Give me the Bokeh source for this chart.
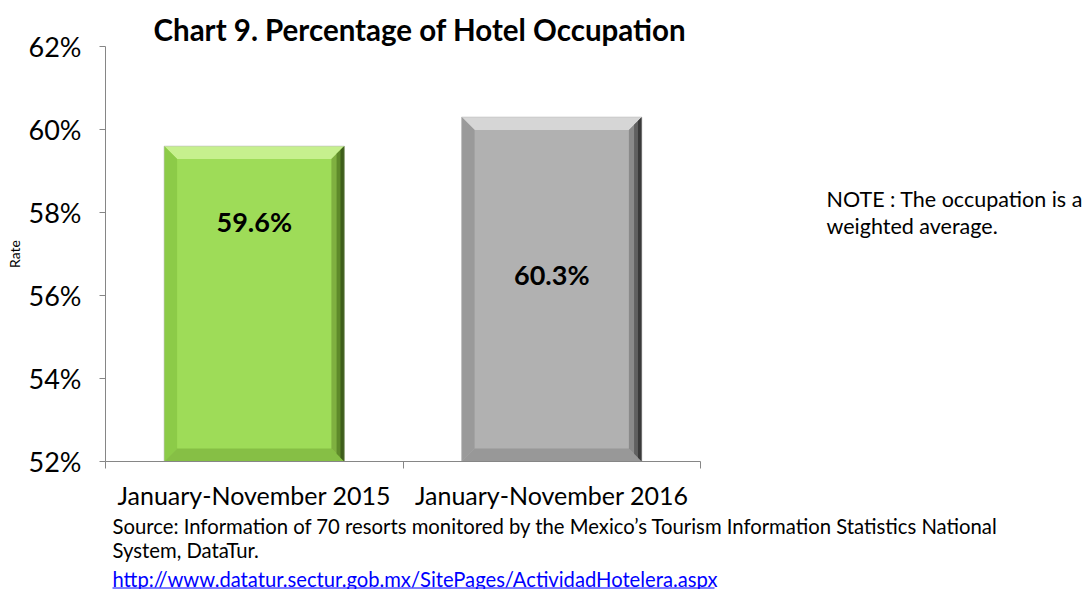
from bokeh.plotting import figure
from bokeh.models import Range1d, FixedTicker, Label
from bokeh.layouts import column, row
from bokeh.core.properties import value
from bokeh.embed import file_html
from bokeh.resources import INLINE

# ---- data ----
categories = ["January-November 2015", "January-November 2016"]
values = [59.6, 60.3]
value_labels = ["59.6%", "60.3%"]
y_ticks = [52, 54, 56, 58, 60, 62]
y_tick_labels = ["52%", "54%", "56%", "58%", "60%", "62%"]
title_text = "Chart 9. Percentage of Hotel Occupation"
y_title = "Rate"
note_lines = ["NOTE : The occupation is a", "weighted average."]
source_lines = ["Source:  Information of 70 resorts monitored by the Mexico\u2019s Tourism Information Statistics National",
                "System, DataTur."]
url_text = "http://www.datatur.sectur.gob.mx/SitePages/ActividadHotelera.aspx"

# ---- styles ----
FONT = "Lato"
face = ["#9EDC58", "#B1B1B1"]
top_c = ["#C6F08E", "#D6D6D6"]
left_c = ["#8CCB48", "#9A9A9A"]
bot_c = ["#86BF45", "#989898"]
right_c = [["#7FB040", "#5E8A2A", "#3E5E1A"], ["#8A8A8A", "#606060", "#3A3A3A"]]

W, H = 1091, 589
MAIN_W, MAIN_H = 800, 512
FL, FR, FT, FB = 105, 100, 46, 48   # frame borders of main figure
YMIN, YMAX = 52, 62
XMIN, XMAX = 0, 2
fw = MAIN_W - FL - FR
fh = MAIN_H - FT - FB

def fy(py):  # page px -> data y
    return YMIN + (MAIN_H - FB - py) / fh * (YMAX - YMIN)

p = figure(width=MAIN_W, height=MAIN_H, x_range=Range1d(XMIN, XMAX), y_range=Range1d(YMIN, YMAX),
           output_backend="svg", toolbar_location=None,
           min_border_left=FL, min_border_right=FR, min_border_top=FT, min_border_bottom=FB)
p.xgrid.visible = False
p.ygrid.visible = False
p.outline_line_color = None

# title
p.title.text = title_text
p.title.align = "left"
p.title.offset = 48
p.title.text_font = FONT
p.title.text_font_style = "bold"
p.title.text_font_size = "29.5px"
p.title.text_color = "black"
p.title.standoff = 0

# bars with bevel
half = 0.303
bx = 13 / fw * (XMAX - XMIN)
by = 13 / fh * (YMAX - YMIN)
for i, v in enumerate(values):
    c = i + 0.5
    x0, x1, y0, y1 = c - half, c + half, YMIN, v
    p.quad(left=x0, right=x1, bottom=y0, top=y1, fill_color=face[i], line_color=None)
    p.patch([x0, x1, x1 - bx, x0 + bx], [y1, y1, y1 - by, y1 - by], fill_color=top_c[i], line_color=None)
    p.patch([x0, x0 + bx, x0 + bx, x0], [y1, y1 - by, y0 + by, y0], fill_color=left_c[i], line_color=None)
    p.patch([x0, x1, x1 - bx, x0 + bx], [y0, y0, y0 + by, y0 + by], fill_color=bot_c[i], line_color=None)
    for f, col in zip([1.0, 0.6, 0.3], right_c[i]):
        p.patch([x1, x1, x1 - f * bx, x1 - f * bx], [y1, y0, y0 + f * by, y1 - f * by],
                fill_color=col, line_color=None)
    p.quad(left=x0, right=x1, bottom=y0, top=y1, fill_color=None, line_color="#BFBFBF", line_width=1, line_alpha=0.6)

# axes
ax = p.xaxis[0]
ax.ticker = FixedTicker(ticks=[0.5, 1.5], minor_ticks=[0, 1, 2])
ax.major_label_overrides = {0.5: categories[0], 1.5: categories[1]}
ax.major_tick_out = 0
ax.major_tick_in = 0
ax.minor_tick_out = 7
ax.minor_tick_in = 0
ax.axis_line_color = "#868686"
ax.minor_tick_line_color = "#868686"
ax.major_label_text_font = FONT
ax.major_label_text_font_size = "25px"
ax.major_label_text_color = "black"
ax.major_label_standoff = 11

ay = p.yaxis[0]
ay.ticker = FixedTicker(ticks=y_ticks, minor_ticks=[])
ay.major_label_overrides = {t: s for t, s in zip(y_ticks, y_tick_labels)}
ay.major_tick_out = 6
ay.major_tick_in = 0
ay.axis_line_color = "#868686"
ay.major_tick_line_color = "#868686"
ay.major_label_text_font = FONT
ay.major_label_text_font_size = "27px"
ay.major_label_text_color = "black"
ay.major_label_standoff = 18
ay.axis_label = y_title
ay.axis_label_text_font = FONT
ay.axis_label_text_font_size = "14px"
ay.axis_label_text_font_style = "normal"
ay.axis_label_text_color = "black"
ay.axis_label_standoff = 3

# value labels
label_y_px = [222, 276]
for i, (s, ly) in enumerate(zip(value_labels, label_y_px)):
    p.add_layout(Label(x=i + 0.5, y=fy(ly), text=s, text_align="center", text_baseline="middle",
                       text_font=FONT, text_font_style="bold", text_font_size="27px", text_color="black"))

# note panel (frame aligned with main frame; y in page px, downward)
NOTE_W = W - MAIN_W
pn = figure(width=NOTE_W, height=MAIN_H, x_range=Range1d(0, NOTE_W), y_range=Range1d(MAIN_H - FB, FT),
            x_axis_type=None, y_axis_type=None, output_backend="svg", toolbar_location=None,
            min_border=0, outline_line_color=None)
pn.grid.visible = False
pn.text(x=[826 - MAIN_W] * len(note_lines), y=[200, 227], text=note_lines,
        text_align="left", text_baseline="middle", text_font=value(FONT),
        text_font_size="21.5px", text_color="black")

# source panel
SRC_H = H - MAIN_H
ps = figure(width=W, height=SRC_H, x_range=Range1d(0, W), y_range=Range1d(H, MAIN_H),
            x_axis_type=None, y_axis_type=None, output_backend="svg", toolbar_location=None,
            min_border=0, outline_line_color=None)
ps.grid.visible = False
ps.text(x=[112] * len(source_lines), y=[525, 549], text=source_lines,
        text_align="left", text_baseline="middle", text_font=value(FONT),
        text_font_size="20.3px", text_color="black")
ps.text(x=[112], y=[578], text=[url_text], text_align="left", text_baseline="middle",
        text_font=value(FONT), text_font_size="20.2px", text_color="#0000FF")
ps.segment(x0=[112], y0=[587.5], x1=[714], y1=[587.5], line_color="#0000FF", line_width=1)

layout = column(row(p, pn, spacing=0), ps, spacing=0)
open("out.html", "w").write(file_html(layout, INLINE))
